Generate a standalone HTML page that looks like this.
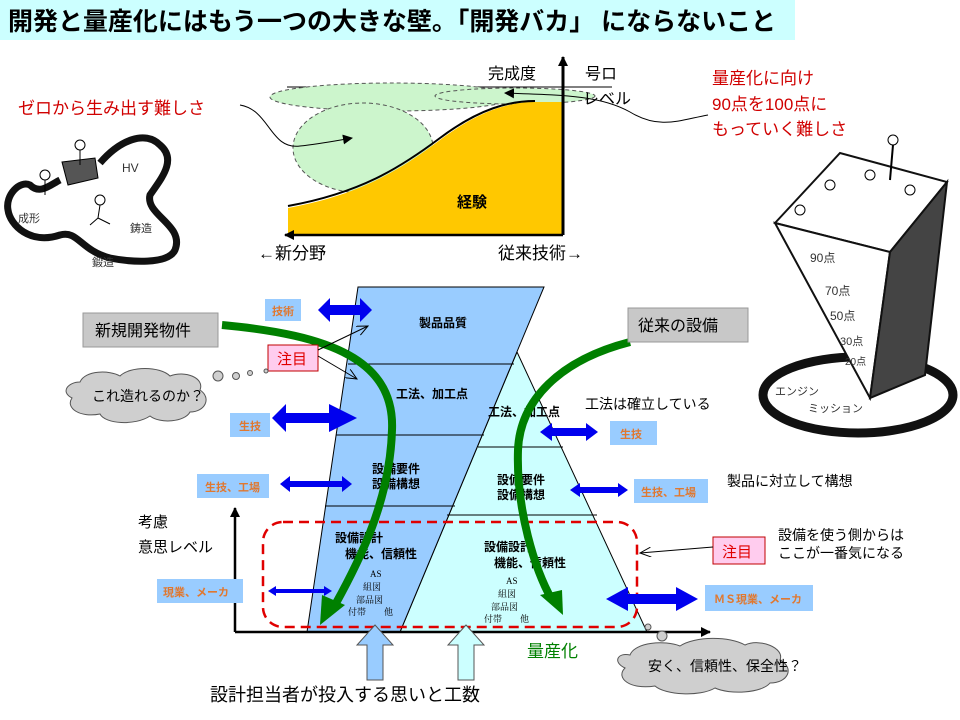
<!DOCTYPE html>
<html><head><meta charset="utf-8"><style>
html,body{margin:0;padding:0;background:#fff;}
svg{display:block;font-family:"Liberation Sans","Noto Sans CJK JP",sans-serif;}
.b{font-weight:bold;}
</style></head><body>
<svg width="960" height="720" viewBox="0 0 960 720" xmlns="http://www.w3.org/2000/svg">
<defs>
<marker id="ah" markerWidth="10" markerHeight="10" refX="9" refY="5" orient="auto" markerUnits="userSpaceOnUse"><path d="M0,0 L10,5 L0,10 z" fill="#000"/></marker>
<marker id="oh" markerWidth="12" markerHeight="10" refX="11" refY="5" orient="auto" markerUnits="userSpaceOnUse"><path d="M0,0 L11,5 L0,10" fill="none" stroke="#000" stroke-width="1"/></marker>
</defs>
<!-- title -->
<rect x="0" y="0" width="795" height="40" fill="#ccffff"/>
<text x="8" y="30" font-size="25" class="b" fill="#000" textLength="768" lengthAdjust="spacingAndGlyphs">開発と量産化にはもう一つの大きな壁。「開発バカ」 にならないこと</text>

<!-- top chart -->
<line x1="287" y1="87" x2="612" y2="87" stroke="#000" stroke-width="1"/>
<ellipse cx="392" cy="97" rx="122" ry="14" fill="#ccf5cc" stroke="#555" stroke-dasharray="4,3"/>
<ellipse cx="363" cy="148" rx="70" ry="45" fill="#ccf5cc" stroke="#555" stroke-dasharray="4,3"/>
<ellipse cx="515" cy="96" rx="80" ry="8" fill="#ccf5cc" stroke="#555" stroke-dasharray="4,3"/>
<path d="M288,208 C360,195 400,170 440,140 C480,110 510,102 535,102 L563,102 L563,234 L288,234 Z" fill="#ffc800"/>
<path d="M288,206 C360,193 400,168 440,138 C480,108 510,101 535,101" fill="none" stroke="#000" stroke-width="2"/>
<line x1="563" y1="235" x2="563" y2="57" stroke="#000" stroke-width="3" marker-end="url(#ah)"/>
<line x1="563" y1="235" x2="285" y2="235" stroke="#000" stroke-width="2.5" marker-end="url(#ah)"/>
<text x="488" y="79" font-size="16">完成度</text>
<text x="585" y="79" font-size="16">号ロ</text>
<text x="583" y="104" font-size="16">レベル</text>
<text x="258" y="259" font-size="17">←新分野</text>
<text x="498" y="259" font-size="17">従来技術→</text>
<text x="457" y="207" font-size="15" class="b">経験</text>
<text x="18" y="114" font-size="17" fill="#d00000">ゼロから生み出す難しさ</text>
<path d="M240,105 C270,110 270,150 300,146 C320,144 340,140 352,138" fill="none" stroke="#000" stroke-width="1" marker-end="url(#ah)"/>
<text x="712" y="84" font-size="17" fill="#d00000">量産化に向け</text>
<text x="712" y="110" font-size="17" fill="#d00000">90点を100点に</text>
<text x="712" y="135" font-size="17" fill="#d00000">もっていく難しさ</text>
<path d="M708,115 C680,120 660,130 630,112 C600,95 560,95 505,93" fill="none" stroke="#000" stroke-width="1" marker-end="url(#ah)"/>

<!-- left sketch blob -->
<path d="M100,163 C120,140 145,130 160,145 C178,160 160,180 150,195 C145,215 185,225 175,250 C168,265 130,262 110,258 C80,250 78,230 60,235 C30,245 10,225 8,210 C5,195 20,180 30,185 C40,195 50,185 60,180" fill="none" stroke="#111" stroke-width="7"/>
<path d="M62,162 L95,158 L98,178 L68,185 Z" fill="#555" stroke="#000"/>
<text x="122" y="172" font-size="12" fill="#333">HV</text>
<text x="130" y="232" font-size="11" fill="#333">鋳造</text>
<text x="92" y="266" font-size="11" fill="#333">鍛造</text>
<text x="18" y="222" font-size="11" fill="#333">成形</text>
<circle cx="80" cy="145" r="5" fill="none" stroke="#000"/>
<line x1="80" y1="150" x2="80" y2="165" stroke="#000"/>
<circle cx="45" cy="175" r="5" fill="none" stroke="#000"/>
<line x1="45" y1="180" x2="45" y2="195" stroke="#000"/>
<circle cx="100" cy="200" r="5" fill="none" stroke="#000"/>
<path d="M100,205 L98,218 L90,225 M98,218 L110,224" fill="none" stroke="#000"/>

<!-- right tower sketch -->
<ellipse cx="858" cy="395" rx="95" ry="38" fill="none" stroke="#111" stroke-width="9"/>
<path d="M775,223 L840,153 L947,182 L890,252 Z" fill="#fff" stroke="#111" stroke-width="2"/>
<path d="M775,223 L890,252 L870,398 Z" fill="#fff" stroke="#111" stroke-width="2"/>
<path d="M890,252 L947,182 L925,375 L870,398 Z" fill="#444" stroke="#111" stroke-width="2"/>
<text x="810" y="262" font-size="12" fill="#333">90点</text>
<text x="825" y="295" font-size="12" fill="#333">70点</text>
<text x="830" y="320" font-size="12" fill="#333">50点</text>
<text x="840" y="345" font-size="11" fill="#333">30点</text>
<text x="845" y="365" font-size="10" fill="#333">20点</text>
<text x="775" y="395" font-size="11" fill="#333">エンジン</text>
<text x="808" y="412" font-size="11" fill="#333">ミッション</text>
<circle cx="893" cy="140" r="5" fill="none" stroke="#000"/><line x1="893" y1="145" x2="890" y2="180" stroke="#000" stroke-width="2"/>
<circle cx="870" cy="175" r="5" fill="none" stroke="#000"/><circle cx="830" cy="185" r="5" fill="none" stroke="#000"/><circle cx="800" cy="210" r="5" fill="none" stroke="#000"/><circle cx="910" cy="190" r="5" fill="none" stroke="#000"/>

<!-- pyramid -->
<polygon points="517,352 647,632 400,632" fill="#ccffff" stroke="#000" stroke-width="1"/>
<polygon points="358,287 544,287 400,632 307,632" fill="#99ccff" stroke="#000" stroke-width="1"/>
<line x1="348" y1="364" x2="514" y2="364" stroke="#000"/>
<line x1="336" y1="435" x2="484" y2="435" stroke="#000"/>
<line x1="478" y1="447" x2="563" y2="447" stroke="#000"/>
<line x1="325" y1="506" x2="455" y2="506" stroke="#000"/>
<line x1="447" y1="515" x2="597" y2="515" stroke="#000"/>
<g font-size="12" class="b">
<text x="419" y="327">製品品質</text>
<text x="396" y="398">工法、加工点</text>
<text x="488" y="416">工法、加工点</text>
<text x="372" y="473">設備要件</text>
<text x="372" y="488">設備構想</text>
<text x="497" y="484">設備要件</text>
<text x="497" y="499">設備構想</text>
<text x="335" y="542">設備設計</text>
<text x="345" y="558">機能、信頼性</text>
<text x="484" y="551">設備設計</text>
<text x="494" y="567">機能、信頼性</text>
</g>
<g font-size="9" font-family="Liberation Serif,Noto Serif CJK SC,serif">
<text x="370" y="577">AS</text><text x="363" y="590">組図</text><text x="356" y="603">部品図</text><text x="348" y="615">付帯　　他</text>
<text x="506" y="584">AS</text><text x="498" y="597">組図</text><text x="491" y="610">部品図</text><text x="484" y="622">付帯　　他</text>
</g>
<rect x="263" y="522" width="374" height="105" rx="20" fill="none" stroke="#e00000" stroke-width="2.5" stroke-dasharray="10,6"/>

<!-- axes -->
<line x1="235" y1="632" x2="235" y2="508" stroke="#000" stroke-width="2.5" marker-end="url(#ah)"/>
<line x1="235" y1="632" x2="710" y2="632" stroke="#000" stroke-width="2.5" marker-end="url(#ah)"/>
<text x="138" y="527" font-size="15">考慮</text>
<text x="138" y="552" font-size="15">意思レベル</text>
<text x="527" y="657" font-size="17" fill="#008000">量産化</text>

<!-- green arrows -->
<path d="M222,325 C330,335 395,360 392,430 C390,500 360,560 335,605" fill="none" stroke="#008000" stroke-width="8"/>
<polygon points="320,625 322,595 345,605" fill="#008000"/>
<path d="M630,342 C560,360 520,400 518,450 C516,510 535,570 552,600" fill="none" stroke="#008000" stroke-width="8"/>
<polygon points="563,615 540,595 562,590" fill="#008000"/>

<!-- blue double arrows -->
<g fill="#0000ee">
<polygon points="318,310 330,298 330,305 360,305 360,298 372,310 360,322 360,315 330,315 330,322"/>
<polygon points="288,418 302,404 302,413 345,413 345,404 373,418 345,432 345,423 302,423 302,432" transform="translate(-16,0)"/>
<polygon points="280,484 290,476 290,481 342,481 342,476 352,484 342,492 342,487 290,487 290,492"/>
<polygon points="268,591 276,586 276,589 324,589 324,586 332,591 324,596 324,593 276,593 276,596"/>
<polygon points="540,432 552,423 552,428 586,428 586,423 598,432 586,441 586,436 552,436 552,441"/>
<polygon points="570,490 580,483 580,487 618,487 618,483 628,490 618,497 618,493 580,493 580,497"/>
<polygon points="606,599 628,587 628,594 676,594 676,587 698,599 676,611 676,604 628,604 628,611"/>
</g>
<g fill="#99ccff">
<rect x="265" y="299" width="36" height="22"/>
<rect x="230" y="413" width="40" height="24"/>
<rect x="197" y="474" width="72" height="24"/>
<rect x="157" y="579" width="86" height="24"/>
<rect x="610" y="421" width="47" height="24"/>
<rect x="634" y="479" width="74" height="24"/>
<rect x="705" y="585" width="108" height="26"/>
</g>
<g font-size="11" class="b" fill="#e07830">
<text x="272" y="315">技術</text>
<text x="239" y="430">生技</text>
<text x="205" y="491">生技、工場</text>
<text x="163" y="596">現業、メーカ</text>
<text x="620" y="438">生技</text>
<text x="641" y="496">生技、工場</text>
<text x="714" y="603">ＭＳ現業、メーカ</text>
</g>

<!-- gray boxes -->
<rect x="83" y="313" width="135" height="34" fill="#c8c8c8" stroke="#999"/>
<text x="95" y="336" font-size="16">新規開発物件</text>
<rect x="628" y="308" width="120" height="34" fill="#c8c8c8" stroke="#999"/>
<text x="638" y="331" font-size="16">従来の設備</text>

<!-- 注目 -->
<rect x="268" y="345" width="50" height="26" fill="#ffccee" stroke="#c00000"/>
<text x="277" y="364" font-size="15" fill="#e00000">注目</text>
<line x1="318" y1="350" x2="368" y2="326" stroke="#000" marker-end="url(#oh)"/>
<line x1="318" y1="356" x2="357" y2="379" stroke="#000" marker-end="url(#oh)"/>
<rect x="713" y="537" width="52" height="27" fill="#ffccee" stroke="#c00000"/>
<text x="722" y="557" font-size="15" fill="#e00000">注目</text>
<line x1="713" y1="547" x2="640" y2="553" stroke="#000" marker-end="url(#oh)"/>

<!-- clouds -->
<g fill="#cfcfcf" stroke="#555">
<path d="M80,382 C85,370 110,370 120,376 C130,366 160,366 170,376 C185,370 205,378 200,390 C212,398 205,412 190,412 C185,422 160,424 150,416 C135,426 105,424 100,414 C80,418 65,408 72,398 C60,392 68,382 80,382 Z"/>
<circle cx="218" cy="376" r="5"/><circle cx="236" cy="376" r="3.5"/><circle cx="250" cy="373" r="2.5"/><circle cx="266" cy="371" r="2"/>
<path d="M630,655 C635,642 665,640 680,646 C695,636 730,636 745,645 C760,638 785,648 780,660 C795,668 788,683 770,683 C762,693 730,695 715,688 C700,697 665,695 655,686 C630,690 615,678 625,668 C612,662 618,652 630,655 Z"/>
<circle cx="662" cy="636" r="5"/><circle cx="648" cy="627" r="3"/>
</g>
<text x="92" y="401" font-size="14">これ造れるのか？</text>
<text x="648" y="671" font-size="14">安く、信頼性、保全性？</text>

<text x="585" y="409" font-size="14">工法は確立している</text>
<text x="727" y="486" font-size="14">製品に対立して構想</text>
<text x="778" y="540" font-size="14">設備を使う側からは</text>
<text x="778" y="558" font-size="14">ここが一番気になる</text>

<!-- up arrows -->
<polygon points="375,625 393,645 383,645 383,680 367,680 367,645 357,645" fill="#99ccff" stroke="#555"/>
<polygon points="466,625 484,645 474,645 474,680 458,680 458,645 448,645" fill="#ccffff" stroke="#555"/>
<text x="210" y="701" font-size="18">設計担当者が投入する思いと工数</text>
</svg>
</body></html>
